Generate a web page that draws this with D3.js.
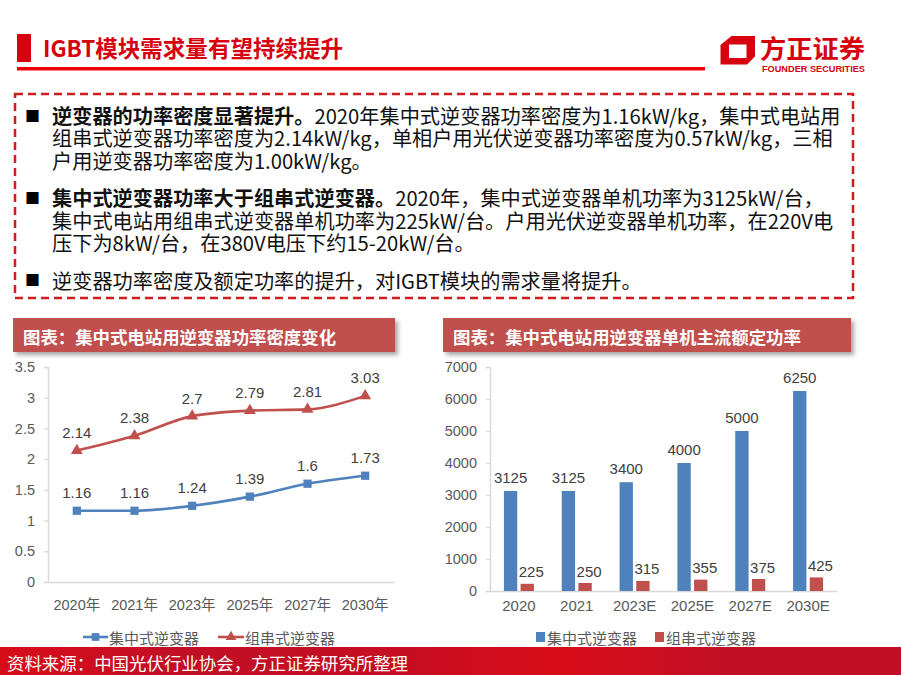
<!DOCTYPE html>
<html>
<head>
<meta charset="utf-8">
<script src="https://cdn.jsdelivr.net/npm/d3@7"></script>
<style>
	body { margin:0; background:#fff; }
	svg { display:block; font-family:"Noto Sans CJK SC", sans-serif; }
	.num { font-family:"Liberation Sans", "Noto Sans CJK SC", sans-serif; }
</style>
</head>
<body>
<div id="page"></div>
<script>
// ---- data ----
var densityYears = ["2020年","2021年","2023年","2025年","2027年","2030年"];
var centralDensity = [1.16,1.16,1.24,1.39,1.6,1.73];
var stringDensity = [2.14,2.38,2.7,2.79,2.81,3.03];
var densityTicks = [0,0.5,1,1.5,2,2.5,3,3.5];

var powerYears = ["2020","2021","2023E","2025E","2027E","2030E"];
var centralPower = [3125,3125,3400,4000,5000,6250];
var stringPower = [225,250,315,355,375,425];
var powerTicks = [0,1000,2000,3000,4000,5000,6000,7000];

var seriesNames = ["集中式逆变器","组串式逆变器"];

var pageTitle = "IGBT模块需求量有望持续提升";
var leftTitle = "图表：集中式电站用逆变器功率密度变化";
var rightTitle = "图表：集中式电站用逆变器单机主流额定功率";
var sourceText = "资料来源：中国光伏行业协会，方正证券研究所整理";

// each line: [bold part, normal part]
var bodyLines = [
	["逆变器的功率密度显著提升。","2020年集中式逆变器功率密度为1.16kW/kg，集中式电站用"],
	["","组串式逆变器功率密度为2.14kW/kg，单相户用光伏逆变器功率密度为0.57kW/kg，三相"],
	["","户用逆变器功率密度为1.00kW/kg。"],
	["集中式逆变器功率大于组串式逆变器。","2020年，集中式逆变器单机功率为3125kW/台，"],
	["","集中式电站用组串式逆变器单机功率为225kW/台。户用光伏逆变器单机功率，在220V电"],
	["","压下为8kW/台，在380V电压下约15-20kW/台。"],
	["","逆变器功率密度及额定功率的提升，对IGBT模块的需求量将提升。"]
];
var lineY = [115,137,159.5,197,219.5,242,279.5];
var bulletRows = [0,3,6];

var blue = "#4f81bd", red = "#c0504d";

var svg = d3.select("#page").append("svg")
	.attr("width",901)
	.attr("height",675);

var defs = svg.append("defs");
var shadow = defs.append("filter").attr("id","shadow").attr("x","-5%").attr("y","-20%").attr("width","115%").attr("height","160%");
shadow.append("feDropShadow").attr("dx",3).attr("dy",3).attr("stdDeviation",2).attr("flood-color","#000").attr("flood-opacity",0.35);

var footGrad = defs.append("linearGradient").attr("id","footGrad");
[["0%","#d80c18"],["20%","#c20f26"],["45%","#c60e22"],["62%","#d80c18"],["80%","#c30f25"],["100%","#c20f26"]].forEach(function(s){
	footGrad.append("stop").attr("offset",s[0]).attr("stop-color",s[1]);
});

// ---- header ----
svg.append("rect").attr("x",17).attr("y",34).attr("width",14).attr("height",28).style("fill","#d7000f");
svg.append("text")
	.attr("x",43).attr("y",47)
	.attr("dominant-baseline","central")
	.attr("textLength",300).attr("lengthAdjust","spacingAndGlyphs")
	.style("font-size","23px").style("font-weight","bold").style("fill","#d7000f")
	.text(pageTitle);
svg.append("rect").attr("x",17).attr("y",67).attr("width",688).attr("height",3.5).style("fill","#f50000");

// logo
svg.append("path")
	.attr("d","M731.5,36 L755,36 L755,56.5 L747,64.5 L720.5,64.5 L720.5,45 Z M729,44.5 L729,58 L746.5,58 L746.5,44.5 Z")
	.attr("fill-rule","evenodd")
	.style("fill","#d7000f");
svg.append("text")
	.attr("x",760).attr("y",47)
	.attr("dominant-baseline","central")
	.attr("textLength",105).attr("lengthAdjust","spacingAndGlyphs")
	.style("font-size","25px").style("font-weight","bold").style("fill","#d7000f")
	.text("方正证券");
svg.append("text")
	.attr("class","num")
	.attr("x",762).attr("y",69)
	.attr("dominant-baseline","central")
	.attr("textLength",103).attr("lengthAdjust","spacingAndGlyphs")
	.style("font-size","9px").style("font-weight","bold").style("fill","#d7000f")
	.text("FOUNDER SECURITIES");

// ---- dashed text box ----
svg.append("rect")
	.attr("x",15).attr("y",94).attr("width",838).attr("height",204)
	.style("fill","none").style("stroke","#d01c1f").style("stroke-width",2.5)
	.style("stroke-dasharray","8,5");

bulletRows.forEach(function(r){
	svg.append("text")
		.attr("x",25).attr("y",lineY[r])
		.attr("dominant-baseline","central")
		.style("font-size","15px").style("fill","#000")
		.text("■");
});

bodyLines.forEach(function(l,i){
	var t = svg.append("text")
		.attr("x",52).attr("y",lineY[i])
		.attr("dominant-baseline","central")
		.style("font-size","20.2px").style("fill","#111");
	if(l[0] != ""){
		t.append("tspan").style("font-weight","bold").text(l[0]);
	}
	t.append("tspan").text(l[1]);
});

// ---- chart banners ----
function banner(x,w,label){
	svg.append("rect")
		.attr("x",x).attr("y",318).attr("width",w).attr("height",34)
		.style("fill",red).attr("filter","url(#shadow)");
	svg.append("text")
		.attr("x",x+10).attr("y",336)
		.attr("dominant-baseline","central")
		.style("font-size","17.4px").style("font-weight","bold").style("fill","#fff")
		.text(label);
}
banner(13,382,leftTitle);
banner(443,408,rightTitle);

function styleAxis(g){
	g.select(".domain").style("stroke","#d9d9d9").style("stroke-width",1.5);
	g.selectAll(".tick line").style("stroke","#d9d9d9").style("stroke-width",1.2);
	g.selectAll(".tick text").attr("class","num").style("font-size","14.5px").style("fill","#595959");
}

// ---- left chart: power density lines ----
var xL = d3.scaleBand().domain(densityYears).range([48,394]);
var yL = d3.scaleLinear().domain([0,3.5]).range([582,367]);

var gyL = svg.append("g").attr("transform","translate(48,0)")
	.call(d3.axisLeft(yL).tickValues(densityTicks).tickSizeOuter(0).tickSize(4).tickPadding(9).tickFormat(function(d){return d;}));
styleAxis(gyL);
var gxL = svg.append("g").attr("transform","translate(0,582)")
	.call(d3.axisBottom(xL).tickSize(0).tickSizeOuter(0).tickPadding(18));
styleAxis(gxL);

var lineL = d3.line()
	.x(function(d,i){return xL(densityYears[i]) + xL.bandwidth()/2;})
	.y(function(d){return yL(d);})
	.curve(d3.curveMonotoneX);

[[centralDensity,blue,"square"],[stringDensity,red,"triangle"]].forEach(function(s){
	svg.append("path")
		.attr("d",lineL(s[0]))
		.style("fill","none").style("stroke",s[1]).style("stroke-width",2.6);
	var sym = s[2] == "square" ? d3.symbol().type(d3.symbolSquare).size(68) : d3.symbol().type(d3.symbolTriangle).size(62);
	svg.selectAll(null).data(s[0]).enter().append("path")
		.attr("d",sym)
		.attr("transform",function(d,i){return "translate(" + (xL(densityYears[i]) + xL.bandwidth()/2) + "," + yL(d) + ")";})
		.style("fill",s[1]);
	svg.selectAll(null).data(s[0]).enter().append("text")
		.attr("class","num")
		.attr("x",function(d,i){return xL(densityYears[i]) + xL.bandwidth()/2;})
		.attr("y",function(d){return yL(d) - 18;})
		.attr("text-anchor","middle").attr("dominant-baseline","central")
		.style("font-size","15px").style("fill","#404040")
		.text(function(d){return d;});
});

// left legend
var legL = svg.append("g").attr("transform","translate(0,637)");
legL.append("line").attr("x1",83).attr("x2",108).style("stroke",blue).style("stroke-width",2.6);
legL.append("path").attr("d",d3.symbol().type(d3.symbolSquare).size(60)).attr("transform","translate(95.5,0)").style("fill",blue);
legL.append("text").attr("x",109).attr("dominant-baseline","central").style("font-size","15px").style("fill","#595959").text(seriesNames[0]);
legL.append("line").attr("x1",218).attr("x2",244).style("stroke",red).style("stroke-width",2.6);
legL.append("path").attr("d",d3.symbol().type(d3.symbolTriangle).size(50)).attr("transform","translate(231,0)").style("fill",red);
legL.append("text").attr("x",245).attr("dominant-baseline","central").style("font-size","15px").style("fill","#595959").text(seriesNames[1]);

// ---- right chart: rated power bars ----
var xR = d3.scaleBand().domain(powerYears).range([490,837]);
var xInner = d3.scaleBand().domain([0,1]).range([-15,15]).paddingInner(0.2);
var yR = d3.scaleLinear().domain([0,7000]).range([591,367]);

var gyR = svg.append("g").attr("transform","translate(490,0)")
	.call(d3.axisLeft(yR).tickValues(powerTicks).tickSizeOuter(0).tickSize(4).tickPadding(9).tickFormat(d3.format("d")));
styleAxis(gyR);
var gxR = svg.append("g").attr("transform","translate(0,591)")
	.call(d3.axisBottom(xR).tickSize(0).tickSizeOuter(0).tickPadding(9));
styleAxis(gxR);
gxR.selectAll(".tick text").style("font-size","15px");

[[centralPower,blue,0,0,13.5],[stringPower,red,1,4,12]].forEach(function(s){
	svg.selectAll(null).data(s[0]).enter().append("rect")
		.attr("x",function(d,i){return xR(powerYears[i]) + xR.bandwidth()/2 + xInner(s[2]);})
		.attr("y",function(d){return yR(d);})
		.attr("width",xInner.bandwidth())
		.attr("height",function(d){return yR(0) - yR(d);})
		.style("fill",s[1]);
	svg.selectAll(null).data(s[0]).enter().append("text")
		.attr("class","num")
		.attr("x",function(d,i){return xR(powerYears[i]) + xR.bandwidth()/2 + xInner(s[2]) + xInner.bandwidth()/2 + s[3];})
		.attr("y",function(d){return yR(d) - s[4];})
		.attr("text-anchor","middle").attr("dominant-baseline","central")
		.style("font-size","15px").style("fill","#404040")
		.text(function(d){return d;});
});

// right legend
var legR = svg.append("g").attr("transform","translate(0,637)");
legR.append("rect").attr("x",536).attr("y",-5).attr("width",9).attr("height",10).style("fill",blue);
legR.append("text").attr("x",547).attr("dominant-baseline","central").style("font-size","15px").style("fill","#595959").text(seriesNames[0]);
legR.append("rect").attr("x",655).attr("y",-5).attr("width",9).attr("height",10).style("fill",red);
legR.append("text").attr("x",666).attr("dominant-baseline","central").style("font-size","15px").style("fill","#595959").text(seriesNames[1]);

// ---- footer ----
svg.append("rect").attr("x",0).attr("y",647).attr("width",901).attr("height",28).style("fill","url(#footGrad)");
svg.append("text")
	.attr("x",7).attr("y",662)
	.attr("dominant-baseline","central")
	.attr("textLength",401).attr("lengthAdjust","spacingAndGlyphs")
	.style("font-size","17.5px").style("fill","#fff")
	.text(sourceText);
</script>
</body>
</html>
